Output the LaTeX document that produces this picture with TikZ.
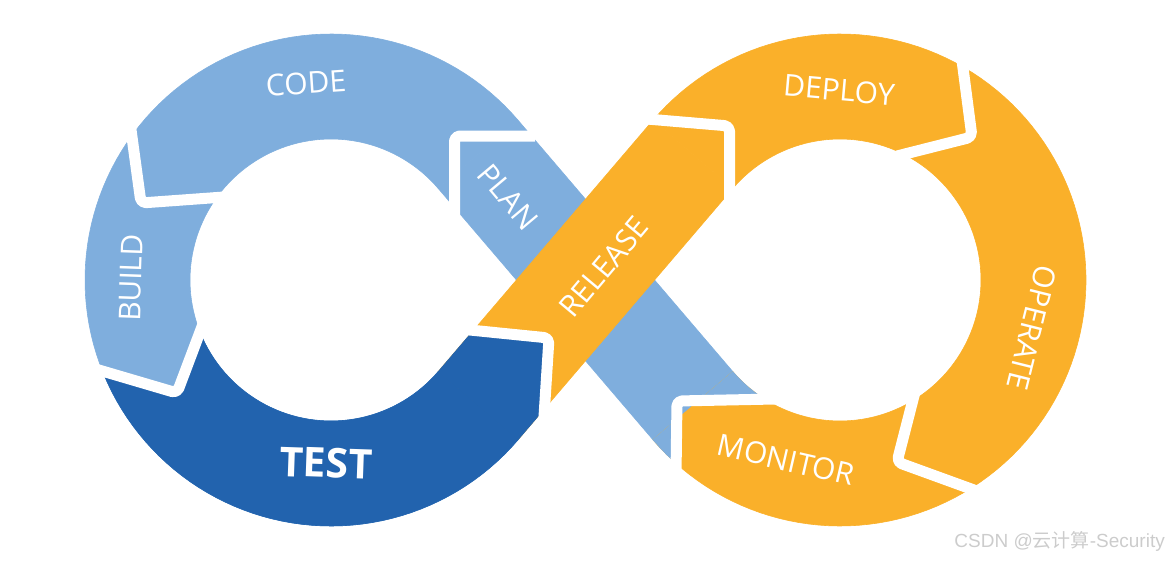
\documentclass[tikz,border=0pt]{standalone}
\usepackage{fontspec}
\setmainfont{Open Sans}
\newfontfamily\wmfont{Liberation Sans}
\newfontfamily\cjkfont{Noto Sans CJK SC}
\definecolor{lb}{HTML}{7FAEDD}
\definecolor{db}{HTML}{2263AE}
\definecolor{og}{HTML}{FAB02A}
\begin{document}
\begin{tikzpicture}[x=1pt,y=-1pt,
  gap/.style={white, line width=11pt, line join=round, line cap=butt, rounded corners=5pt},
  lbl/.style={text=white, font=\fontsize{30}{30}\selectfont, inner sep=0pt},
  seg/.style={line width=0.6pt},
]
\useasboundingbox (0,0) rectangle (1170,560);
% left loop sector (CODE, BUILD, TEST)
\fill[lb, draw=lb, seg] plot[domain=-40.5:-319.5, samples=120] ({331+246*cos(\x)},{280+246*sin(\x)})
   -- plot[domain=-319.5:-40.5, samples=120] ({331+141*cos(\x)},{280+141*sin(\x)}) -- cycle;
% blue strap (PLAN)
\fill[lb, draw=lb, seg] (518,120.2) -- (732.8,371.6) -- (653,439.8) -- (438.2,188.4) -- cycle;
% right loop sector (DEPLOY, OPERATE, MONITOR)
\fill[og, draw=og, seg] plot[domain=139.5:-139.5, samples=120] ({840+246*cos(\x)},{280+246*sin(\x)})
   -- plot[domain=-139.5:139.5, samples=120] ({840+141*cos(\x)},{280+141*sin(\x)}) -- cycle;
% end of the blue strap inside the right loop
\begin{scope}
\clip (600,300) -- (790,300) -- (790,400) -- (677,401) -- (676,480) -- (600,480) -- cycle;
\fill[lb, draw=lb, seg] plot[domain=139.5:-139.5, samples=120] ({840+246*cos(\x)},{280+246*sin(\x)})
   -- plot[domain=-139.5:139.5, samples=120] ({840+141*cos(\x)},{280+141*sin(\x)}) -- cycle;
\end{scope}
% orange strap (RELEASE)
\fill[og, draw=og, seg] (438.2,371.6) -- (653,120.2) -- (732.8,188.4) -- (518,439.8) -- cycle;
% TEST overlay
\begin{scope}
\clip (60,368) -- (177,393) -- (205,318) -- (331,280) -- (450,328) -- (549,338) -- (543,450) -- (543,560) -- (60,560) -- cycle;
\fill[db, draw=db, seg] plot[domain=-40.5:-319.5, samples=120] ({331+246*cos(\x)},{280+246*sin(\x)})
   -- plot[domain=-319.5:-40.5, samples=120] ({331+141*cos(\x)},{280+141*sin(\x)}) -- cycle;
\fill[db, draw=db, seg] (438.2,371.6) -- (653,120.2) -- (732.8,188.4) -- (518,439.8) -- cycle;
\end{scope}
% white gaps between segments
\draw[gap] (535,136) -- (454.5,136) -- (454.5,215);
\draw[gap] (129,115) -- (141,203) -- (224,197);
\draw[gap] (92,368) -- (177,393) -- (206,316);
\draw[gap] (450,328) -- (549,338) -- (542,448);
\draw[gap] (635,118) -- (729.5,126) -- (729.5,205);
\draw[gap] (960,45) -- (972,137) -- (897,156);
\draw[gap] (916,388) -- (897,462) -- (985,494);
\draw[gap] (775,399) -- (677,401) -- (676,475);
% labels
\node[lbl, rotate=4] (code) at (306,83) {CODE};
\node[lbl, rotate=88] (build) at (131,278) {BUILD};
\node[lbl, rotate=-50] (plan) at (508,197) {PLAN};
\node[lbl, rotate=50] (release) at (604,267) {RELEASE};
\node[lbl, font=\bfseries\fontsize{41}{41}\selectfont, rotate=-2] (test) at (326,463) {TEST};
\node[lbl, rotate=-5] (deploy) at (839,90) {DEPLOY};
\node[lbl, rotate=-104] (operate) at (1032,328) {OPERATE};
\node[lbl, rotate=-13] (monitor) at (786,460) {MONITOR};
\node[text=black!20, font=\wmfont\fontsize{19}{19}\selectfont, anchor=east, inner sep=0pt] (wm) at (1165,541) {CSDN @{\cjkfont 云计算}-Security};
\end{tikzpicture}
\end{document}
